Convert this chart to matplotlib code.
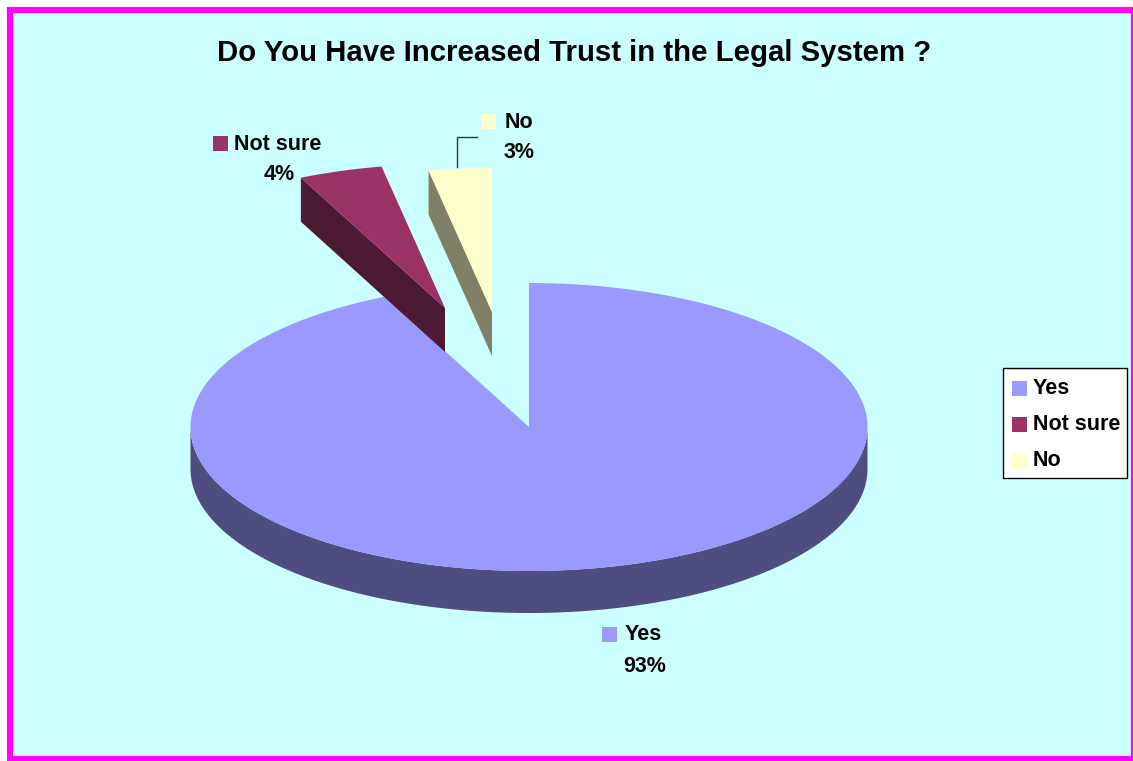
import numpy as np
import matplotlib
matplotlib.use("Agg")
import matplotlib.pyplot as plt
from matplotlib.patches import Polygon, Rectangle

plt.rcParams["font.family"] = ["Liberation Sans", "DejaVu Sans"]

categories = ["Yes", "Not sure", "No"]
values = [93, 4, 3]
top_colors = ["#9999FF", "#993366", "#FFFFCC"]
side_colors = ["#4D4D80", "#4D1A33", "#808066"]

W, H = 1133, 761
RX, RY = 338.5, 144
DEPTHS = [42, 44, 44]
CENTER = (529, 427)
# slices pulled out of the pie, in pixels
OFFSETS = [(0, 0), (-84, -119), (-37, -115)]

fig = plt.figure(figsize=(W / 100, H / 100), dpi=100, facecolor="white")
ax = fig.add_axes([0, 0, 1, 1])
ax.set_xlim(0, W)
ax.set_ylim(H, 0)
ax.axis("off")

# background and frame
ax.add_patch(Rectangle((10, 10), 1124, 749, fc="#CCFFFF", ec="#FF00FF", lw=4.4, zorder=0))


def rim(a0, a1, cx, cy, n=200):
    # angles are clockwise from 12 o'clock
    t = np.radians(np.linspace(a0, a1, n))
    return np.column_stack([cx + RX * np.sin(t), cy - RY * np.cos(t)])


edges = np.cumsum([0] + values) * 3.6
for i in range(3):
    cx = CENTER[0] + OFFSETS[i][0]
    cy = CENTER[1] + OFFSETS[i][1]
    arc = rim(edges[i], edges[i + 1], cx, cy)
    apex = np.array([[cx, cy]])
    down = np.array([0, DEPTHS[i]])
    z = 2 if i == 0 else 3

    if i == 0:
        # outer wall, front half only
        front = rim(90, 270, cx, cy)
        wall = np.vstack([front, (front + down)[::-1]])
    else:
        # cut face on the left of the slice
        wall = np.vstack([apex, arc[0], arc[0] + down, apex + down])
    ax.add_patch(Polygon(wall, fc=side_colors[i], ec="none", zorder=z))
    ax.add_patch(Polygon(np.vstack([apex, arc]), fc=top_colors[i], ec="none", zorder=z + 1))

# title
ax.text(574, 53, "Do You Have Increased Trust in the Legal System ?", ha="center", va="center",
        fontsize=21.2, fontweight="bold", color="black")

# data labels
label_font = dict(fontsize=15.5, fontweight="bold", color="black", va="center", zorder=6)
label_pos = [(625, 635, 645, 666, 602), (234, 144, 279.5, 174, 213), (505, 122, 519, 153, 481)]
for i, (tx, ty, px, py, sx) in enumerate(label_pos):
    ax.add_patch(Rectangle((sx, ty - 8.5), 15, 15, fc=top_colors[i], ec="none", zorder=6))
    ax.text(tx, ty, categories[i], ha="left", **label_font)
    ax.text(px, py, "%d%%" % values[i], ha="center", **label_font)

# leader line for No
ax.plot([477, 457, 457], [137, 137, 167], color="#333333", lw=1, zorder=6, solid_joinstyle="miter")

# legend
ax.add_patch(Rectangle((1003, 368), 124, 110, fc="white", ec="black", lw=1, zorder=6))
for i, ly in enumerate([388, 424, 461]):
    ax.add_patch(Rectangle((1012, ly - 7.5), 15, 15, fc=top_colors[i], ec="none", zorder=7))
    ax.text(1033, ly, categories[i], ha="left", va="center", fontsize=15.5, fontweight="bold", zorder=7)

fig.savefig("out.png", dpi=100, facecolor="white")
